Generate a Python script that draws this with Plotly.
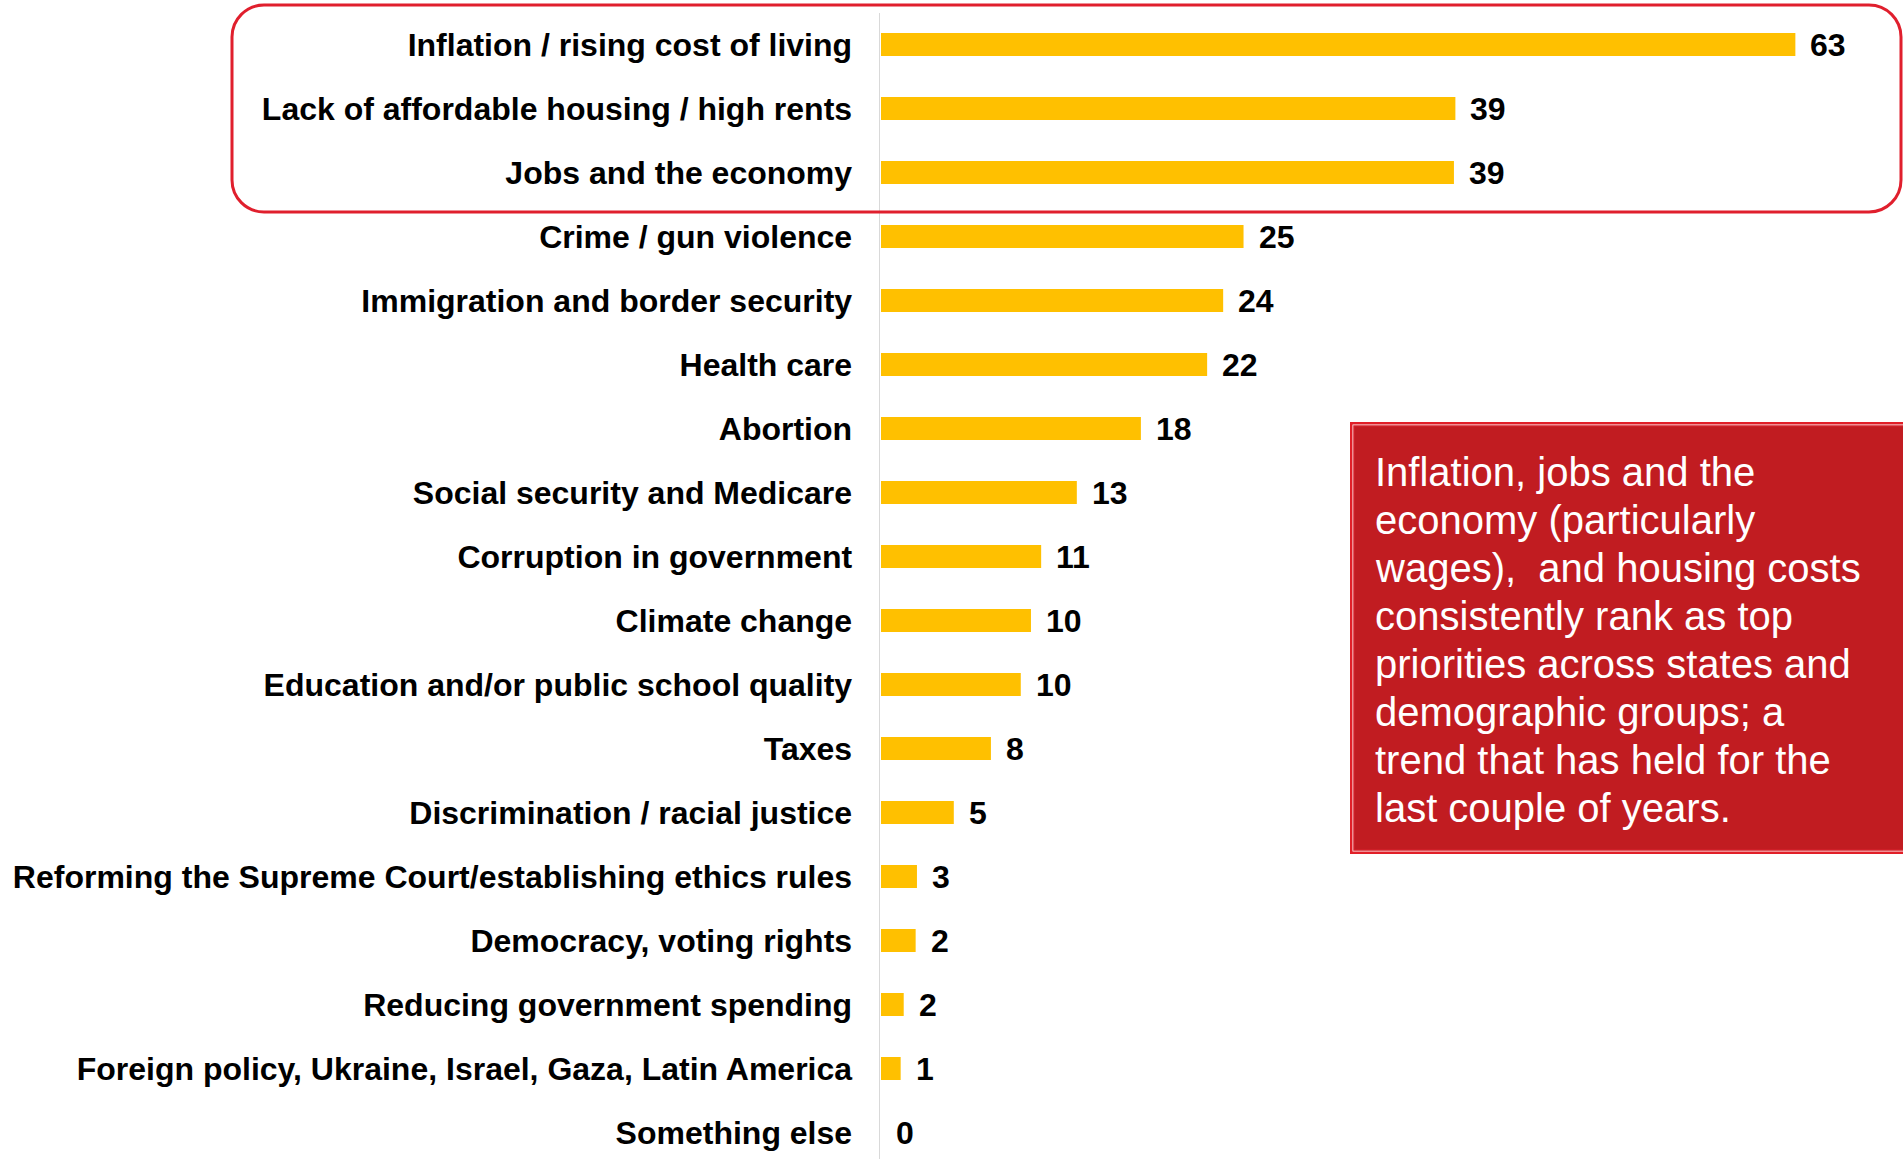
import plotly.graph_objects as go

# ---------------- data ----------------
categories = [
    "Inflation / rising cost of living",
    "Lack of affordable housing / high rents",
    "Jobs and the economy",
    "Crime / gun violence",
    "Immigration and border security",
    "Health care",
    "Abortion",
    "Social security and Medicare",
    "Corruption in government",
    "Climate change",
    "Education and/or public school quality",
    "Taxes",
    "Discrimination / racial justice",
    "Reforming the Supreme Court/establishing ethics rules",
    "Democracy, voting rights",
    "Reducing government spending",
    "Foreign policy, Ukraine, Israel, Gaza, Latin America",
    "Something else",
]
values = [62.8, 39.45, 39.35, 24.9, 23.5, 22.4, 17.85, 13.45, 11.0, 10.3, 9.6,
          7.55, 5.0, 2.47, 2.38, 1.56, 1.35, 0.0]
value_labels = ["63", "39", "39", "25", "24", "22", "18", "13", "11", "10", "10",
                "8", "5", "3", "2", "2", "1", "0"]

callout_lines = [
    "Inflation, jobs and the",
    "economy (particularly",
    "wages),  and housing costs",
    "consistently rank as top",
    "priorities across states and",
    "demographic groups; a",
    "trend that has held for the",
    "last couple of years.",
]

# ---------------- layout geometry ----------------
W, H = 1903, 1159
ML, MT, MR, MB = 880, 13, 0, 0
PW, PH = W - ML - MR, H - MT - MB
PX_PER_UNIT = 14.56
ROW = 64.0
C0 = 44.5  # pixel centre of first row


def px(x):
    return (x - ML) / PW


def py(y):
    return 1 - (y - MT) / PH


x_min = -(881 - ML) / PX_PER_UNIT
x_max = (W - 881) / PX_PER_UNIT
y_top = (MT - C0) / ROW
y_bot = (H - C0) / ROW

FONT = "Liberation Sans, Arial, sans-serif"

fig = go.Figure()
fig.add_trace(go.Bar(
    x=values,
    y=categories,
    orientation="h",
    marker=dict(color="#FFC000", line=dict(width=0)),
    width=0.36,
    hoverinfo="skip",
))

annotations = []
for cat, v, lab in zip(categories, values, value_labels):
    annotations.append(dict(
        x=v, y=cat, xref="x", yref="y", text=lab, showarrow=False,
        xanchor="left", yanchor="middle", xshift=13,
        font=dict(family=FONT, size=32, color="#000000", weight="bold"),
    ))

# callout text lines
for i, line in enumerate(callout_lines):
    annotations.append(dict(
        x=px(1373), y=py(472 + 48.0 * i), xref="paper", yref="paper",
        text=line, showarrow=False, xanchor="left", yanchor="middle",
        font=dict(family=FONT, size=40, color="#FFFFFF"),
    ))

# rounded highlight rectangle
L, R, T, B, r = 232, 1901, 5, 212, 32
k = 0.5523 * r


def P(x, y):
    return f"{px(x):.6f},{py(y):.6f}"


path = (
    f"M {P(L + r, T)} L {P(R - r, T)} "
    f"C {P(R - r + k, T)} {P(R, T + r - k)} {P(R, T + r)} "
    f"L {P(R, B - r)} "
    f"C {P(R, B - r + k)} {P(R - r + k, B)} {P(R - r, B)} "
    f"L {P(L + r, B)} "
    f"C {P(L + r - k, B)} {P(L, B - r + k)} {P(L, B - r)} "
    f"L {P(L, T + r)} "
    f"C {P(L, T + r - k)} {P(L + r - k, T)} {P(L + r, T)} Z"
)

shapes = [
    dict(type="path", path=path, xref="paper", yref="paper",
         line=dict(color="#E01F2D", width=3), fillcolor="rgba(0,0,0,0)"),
    # callout box: outer red band, white hairline, dark red fill
    dict(type="rect", xref="paper", yref="paper",
         x0=px(1350), x1=px(1915), y0=py(422), y1=py(854),
         fillcolor="#E11F28", line=dict(width=0), layer="above"),
    dict(type="rect", xref="paper", yref="paper",
         x0=px(1352.5), x1=px(1915), y0=py(424.5), y1=py(851.5),
         fillcolor="#FFFFFF", line=dict(width=0), layer="above"),
    dict(type="rect", xref="paper", yref="paper",
         x0=px(1354), x1=px(1915), y0=py(426), y1=py(850),
         fillcolor="#C11C21", line=dict(color="#D2202A", width=1.5), layer="above"),
]

fig.update_layout(
    template="none",
    width=W, height=H,
    margin=dict(l=ML, r=MR, t=MT, b=MB, pad=0),
    paper_bgcolor="#FFFFFF", plot_bgcolor="#FFFFFF",
    showlegend=False,
    bargap=0.64,
    annotations=annotations,
    shapes=shapes,
    xaxis=dict(range=[x_min, x_max], visible=False, showgrid=False,
               zeroline=False, automargin=False, fixedrange=True),
    yaxis=dict(
        type="category", range=[y_bot, y_top], automargin=False,
        showgrid=False, zeroline=False, showline=True,
        linecolor="#D9D9D9", linewidth=1.5, ticks="",
        ticklabelstandoff=20,
        tickfont=dict(family=FONT, size=32, color="#000000", weight="bold"),
        fixedrange=True,
    ),
)

fig.write_html(
    "out.html",
    config={"displayModeBar": False, "staticPlot": True},
    post_script="document.body.style.margin='0';document.body.style.overflow='hidden';",
)
